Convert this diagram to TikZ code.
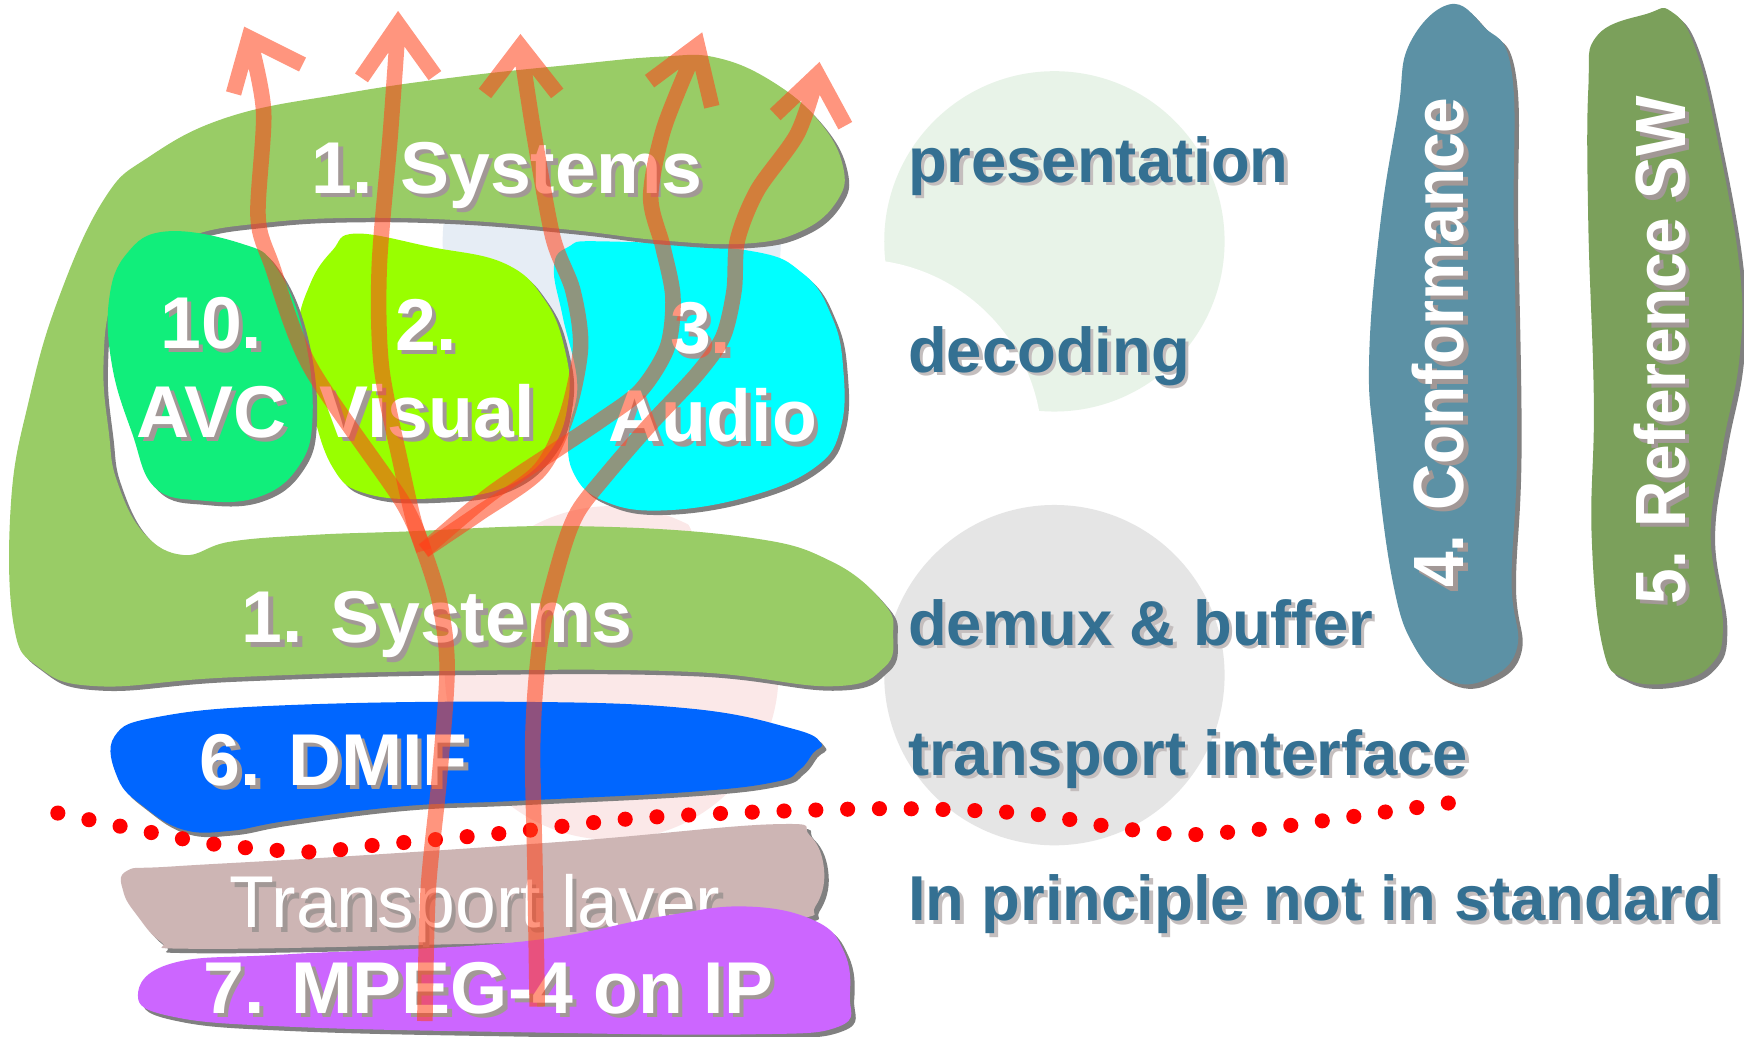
\documentclass[tikz,border=0pt]{standalone}
\usepackage{fontspec}
\usepackage{graphicx}
\setmainfont{Liberation Sans}

\definecolor{sysgreen}{RGB}{153,204,102}
\definecolor{avcgreen}{RGB}{17,238,123}
\definecolor{visualgreen}{RGB}{153,255,0}
\definecolor{audiocyan}{RGB}{0,255,255}
\definecolor{dmifblue}{RGB}{0,102,255}
\definecolor{transrose}{RGB}{205,181,180}
\definecolor{mpegviolet}{RGB}{204,102,255}
\definecolor{confteal}{RGB}{92,145,165}
\definecolor{refgreen}{RGB}{123,160,91}
\definecolor{labelblue}{RGB}{52,112,146}
\definecolor{edgegrey}{RGB}{128,128,128}
\definecolor{textshade}{RGB}{162,152,150}
\definecolor{labelshade}{RGB}{196,190,190}
\definecolor{flowred}{RGB}{255,66,26}
\definecolor{dotred}{RGB}{255,0,0}
\definecolor{palegreen}{RGB}{232,243,232}
\definecolor{paleblue}{RGB}{230,237,245}
\definecolor{palepink}{RGB}{251,232,232}
\definecolor{palegrey}{RGB}{229,229,229}

% a soft shape with a grey drop shadow
\newcommand{\blob}[2]{%
  \fill[edgegrey, shift={(4,4)}] plot[smooth cycle, tension=0.7] coordinates {#2};
  \fill[#1] plot[smooth cycle, tension=0.7] coordinates {#2};}

% text with a drop shadow behind it: shade colour, kern, raise, text
\newcommand{\dropshade}[4]{%
  \leavevmode\rlap{\kern#2\raisebox{#3}{\textcolor{#1}{#4}}}#4}
\newcommand{\whitetext}[1]{\dropshade{textshade}{2pt}{-2pt}{#1}}
\newcommand{\bluetext}[1]{\dropshade{labelshade}{1.5pt}{-1.5pt}{#1}}
\newcommand{\uptext}[1]{\scalebox{0.9}[1]{\dropshade{textshade}{-2.2pt}{-2pt}{#1}}}

\begin{document}
\begin{tikzpicture}[x=0.5pt,y=-0.5pt,
  blobtext/.style={anchor=base, inner sep=0pt, text=white,
    font=\fontsize{33}{36}\selectfont\bfseries},
  blobtextlight/.style={anchor=base, inner sep=0pt, text=white,
    font=\fontsize{33}{36}\selectfont},
  sidelabel/.style={anchor=base west, inner sep=0pt, text=labelblue,
    font=\fontsize{28.5}{32}\selectfont\bfseries},
  uprighttext/.style={anchor=base, inner sep=0pt, text=white, rotate=90,
    font=\fontsize{32}{35}\selectfont\bfseries},
  flowline/.style={draw=flowred, draw opacity=0.56, line width=7pt,
    line join=miter, line cap=butt},
  dotline/.style={draw=dotred, line width=6.8pt, line cap=round,
    dash pattern=on 0pt off 14.3pt}]

\useasboundingbox (0,0) rectangle (1568,932);
\fill[white] (0,0) rectangle (1568,932);

% pale background discs
\fill[paleblue] (550,217) circle (76pt);
\fill[palepink] (550,605) circle (75pt);
\fill[palegreen] (948,217) circle (76.5pt);
\fill[white] (770,400) circle (83.5pt);
\fill[palegrey] (948,607) circle (76.5pt);

% decoding blob behind the systems layer
\blob{audiocyan}{(511,222) (542,217) (671,225) (722,246) (748,285) (758,330)
  (756,384) (733,420) (671,447) (593,459) (542,450) (516,426) (511,390)
  (519,345) (506,285) (498,240)}

% systems layer (presentation above, demux below)
\blob{sysgreen}{(93,180) (134,141) (206,105) (310,84) (413,69) (516,58)
  (593,51) (645,52) (697,75) (738,111) (758,150) (753,180) (722,207)
  (671,219) (593,216) (516,207) (413,198) (310,196) (232,201) (175,211)
  (129,234) (101,270) (93,330) (98,390) (105,432) (129,479) (165,499)
  (207,487) (280,481) (361,478) (516,473) (671,483) (748,505) (795,543)
  (803,570) (795,600) (748,617) (620,604) (413,603) (207,609) (88,617)
  (35,600) (12,560) (10,450) (26,360) (52,270)}
\node[blobtext] (systop) at (456,174) {\whitetext{1. Systems}};
\node[blobtext] (sysbottom) at (393,578) {\whitetext{1. Systems}};

\blob{visualgreen}{(320,210) (387,222) (454,237) (490,270) (508,315)
  (511,360) (495,405) (454,438) (392,448) (330,444) (299,420) (279,360)
  (268,300) (279,255) (299,225)}
\blob{avcgreen}{(150,208) (217,219) (248,240) (273,300) (281,375) (268,420)
  (232,447) (181,450) (139,438) (119,390) (101,330) (98,270) (114,228)}

\node[blobtext] (avcnum) at (190,313) {\whitetext{10.}};
\node[blobtext] (avc) at (190,393) {\whitetext{AVC}};
\node[blobtext] (visnum) at (383,315) {\whitetext{2.}};
\node[blobtext] (visual) at (384,393) {\whitetext{Visual}};
\node[blobtext] (audnum) at (630,318) {\whitetext{3.}};
\node[blobtext] (audio) at (641,397) {\whitetext{Audio}};

% delivery layers
\blob{dmifblue}{(103,662) (145,644) (258,634) (465,631) (620,637) (712,655)
  (738,668) (731,677) (719,692) (697,703) (620,712) (465,720) (361,725)
  (258,738) (207,747) (165,746) (129,725) (106,700)}
\node[blobtext] (dmif) at (300,706) {\whitetext{6. DMIF}};

\blob{transrose}{(114,783) (155,779) (310,770) (516,756) (697,741) (728,751)
  (741,783) (733,815) (712,827) (568,843) (361,850) (170,853) (145,847)
  (124,824) (111,802)}
\node[blobtextlight] (transport) at (427,834) {\whitetext{Transport layer}};

\blob{mpegviolet}{(124,895) (155,866) (258,858) (465,847) (594,824)
  (671,815) (733,828) (759,856) (764,895) (754,923) (671,930) (465,928)
  (258,923) (155,914)}
\node[blobtext] (mpegip) at (439,911) {\whitetext{7. MPEG-4 on IP}};

% normative boundary
\draw[dotline] plot[smooth] coordinates {(52,731) (109,743) (193,759)
  (279,766) (336,760) (453,749) (568,736) (681,730) (797,727) (882,729)
  (939,733) (996,743) (1053,750) (1081,750) (1138,745) (1196,737)
  (1253,729) (1309,721)};

% side columns
\blob{confteal}{(1267,40) (1303,4) (1334,24) (1359,64) (1361,201) (1364,401)
  (1359,522) (1364,582) (1338,610) (1303,612) (1272,582) (1252,522)
  (1236,401) (1231,321) (1241,201) (1257,100)}
\node[uprighttext] (conformance) at (1316,308) {\uptext{4. Conformance}};

\blob{refgreen}{(1436,32) (1482,12) (1502,10) (1523,40) (1543,120) (1564,241)
  (1564,321) (1549,401) (1538,481) (1549,561) (1538,598) (1502,614)
  (1461,610) (1441,582) (1431,481) (1433,361) (1428,201) (1428,80)}
\node[uprighttext] (refsw) at (1515,315) {\uptext{5. Reference SW}};

% layer names
\node[sidelabel] (presentation) at (816,164) {\bluetext{presentation}};
\node[sidelabel] (decoding) at (816,335) {\bluetext{decoding}};
\node[sidelabel] (demux) at (816,580) {\bluetext{demux \& buffer}};
\node[sidelabel] (tif) at (816,697) {\bluetext{transport interface}};
\node[sidelabel] (principle) at (816,828) {\bluetext{In principle not in standard}};

% data flow up through the layers
\coordinate (fork) at (381,495);
\coordinate (tipA) at (224,34);
\coordinate (tipB) at (358,22);
\coordinate (tipC) at (468,42);
\coordinate (tipD) at (627,41);
\coordinate (tipE) at (735,67);

\draw[flowline] plot[smooth] coordinates {(382,918) (385,800) (395,700)
  (402,600) (395,540) (fork)};
\draw[flowline] plot[smooth] coordinates {(fork) (361,450) (279,330)
  (245,240) (232,195) (237,100) (tipA)} (210,84) -- (tipA) -- (272,58);
\draw[flowline] plot[smooth] coordinates {(fork) (372,468) (361,420)
  (343,330) (341,240) (351,120) (tipB)} (325,70) -- (tipB) -- (391,68);
\draw[flowline] plot[smooth] coordinates {(fork) (430,462) (485,423)
  (510,372) (522,312) (515,261) (497,213) (480,120) (tipC)}
  (436,84) -- (tipC) -- (501,84);
\draw[flowline] plot[smooth] coordinates {(fork) (440,445) (504,402)
  (540,378) (576,351) (600,312) (605,267) (596,222) (585,177) (597,115)
  (tipD)} (584,73) -- (tipD) -- (640,96);
\draw[flowline] plot[smooth] coordinates {(483,905) (481,780) (479,665)
  (486,575) (504,501) (519,461) (546,426) (585,381) (627,336) (650,303)
  (660,261) (663,216) (681,171) (717,120) (tipE)}
  (697,103) -- (tipE) -- (760,113);

\end{tikzpicture}
\end{document}
